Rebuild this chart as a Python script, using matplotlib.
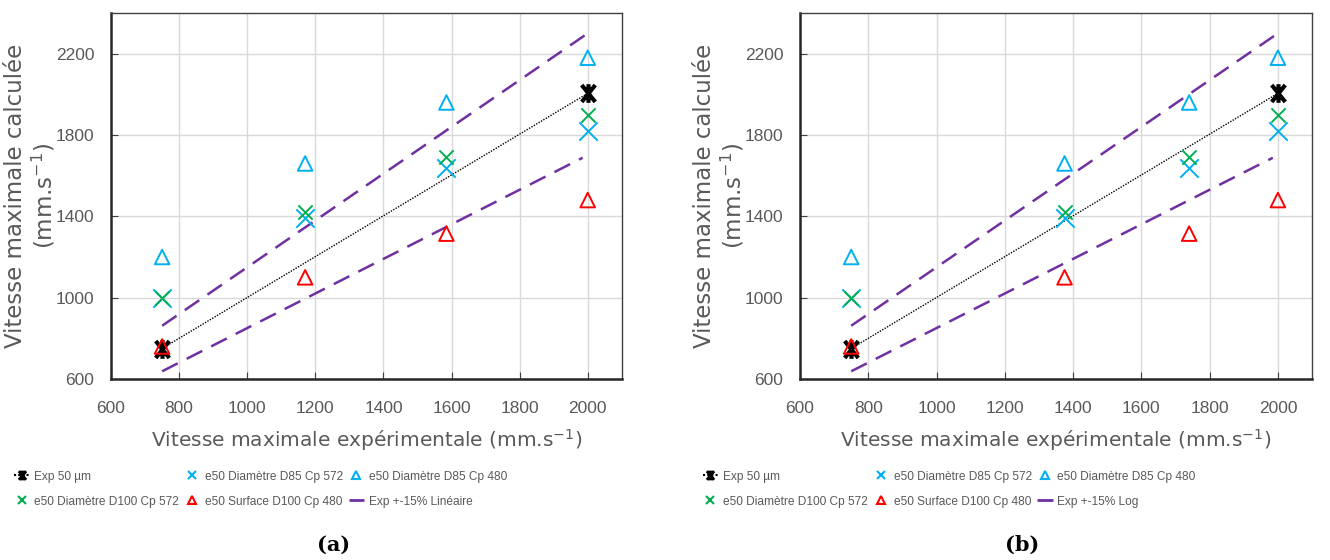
import matplotlib
matplotlib.use('Agg')
import matplotlib.pyplot as plt
from matplotlib.lines import Line2D
from matplotlib.path import Path

# values
x_a = [750, 1170, 1585, 2000]
x_b = [750, 1375, 1740, 2000]
exp_x = [750, 2000]
exp_y = [750, 2005]
d85_572 = [1000, 1390, 1640, 1820]
d85_480 = [1200, 1660, 1960, 2180]
d100_572 = [1000, 1420, 1690, 1900]
surf_480 = [760, 1100, 1315, 1480]
upper_x = [750, 2000]
upper_y = [862, 2300]
lower_x = [750, 1985]
lower_y = [638, 1688]

xticks = [600, 800, 1000, 1200, 1400, 1600, 1800, 2000]
yticks = [600, 1000, 1400, 1800, 2200]
band_labels = ['Exp +-15% Linéaire', 'Exp +-15% Log']
captions = ['(a)', '(b)']

GRAY = '#595959'
CYAN = '#00B0F0'
GREEN = '#00B050'
RED = '#FF0000'
PURPLE = '#7030A0'
TICKFONT = 'Liberation Sans'

# X with a vertical bar, like the Excel marker
star = Path([(-0.8, -1), (0.8, 1), (-0.8, 1), (0.8, -1), (0, -1.1), (0, 1.1)],
            [Path.MOVETO, Path.LINETO, Path.MOVETO, Path.LINETO, Path.MOVETO, Path.LINETO])

fig = plt.figure(figsize=(13.3, 5.6), dpi=100)
ax_a = fig.add_axes([0.0835, 0.3232, 0.384, 0.6536])
ax_b = fig.add_axes([0.6015, 0.3232, 0.385, 0.6536])

panels = [(ax_a, x_a, band_labels[0], 334),
          (ax_b, x_b, band_labels[1], 1022)]
for i, (ax, xs, band, cap_x) in enumerate(panels):
    ax.plot(upper_x, upper_y, color=PURPLE, lw=1.8, dashes=(7, 4), zorder=2)
    ax.plot(lower_x, lower_y, color=PURPLE, lw=1.8, dashes=(7, 4), zorder=2)
    ax.plot(exp_x, exp_y, color='black', lw=1.0, ls=(0, (1, 1)), zorder=3)
    ax.scatter(exp_x, exp_y, marker=star, s=180, color='black', lw=3.0, zorder=4)
    ax.scatter(xs, d85_480, marker='^', s=110, facecolors='none', edgecolors=CYAN, lw=1.4, zorder=5)
    ax.scatter(xs, surf_480, marker='^', s=110, facecolors='none', edgecolors=RED, lw=1.4, zorder=6)
    ax.scatter(xs, d85_572, marker='x', s=175, color=CYAN, lw=1.4, zorder=5)
    ax.scatter(xs, d100_572, marker='x', s=105, color=GREEN, lw=1.4, zorder=5)

    ax.set_xlim(600, 2100)
    ax.set_ylim(600, 2400)
    ax.set_xticks(xticks)
    ax.set_yticks(yticks)
    ax.grid(True, color='#D9D9D9', lw=1.0)
    ax.set_axisbelow(True)
    for sp in ax.spines.values():
        sp.set_color('#404040')
        sp.set_linewidth(1.0)
    for side in ['left', 'bottom']:
        ax.spines[side].set_linewidth(1.8)
        ax.spines[side].set_color('#262626')
    ax.tick_params(direction='in', length=5, color='#404040', labelsize=12.5,
                   labelcolor=GRAY)
    ax.tick_params(axis='x', pad=16)
    ax.tick_params(axis='y', pad=12)
    for lab in ax.get_xticklabels() + ax.get_yticklabels():
        lab.set_family(TICKFONT)

    ax.set_xlabel('Vitesse maximale expérimentale (mm.s$^{-1}$)', fontsize=14.5,
                  color=GRAY, labelpad=8)
    ax.set_ylabel('Vitesse maximale calculée\n(mm.s$^{-1}$)', fontsize=16.5,
                  color=GRAY, linespacing=1.15)
    ax.yaxis.set_label_coords(-0.105, 0.5)

    handles = [
        Line2D([], [], color='black', ls=(0, (1, 1)), marker=star, ms=7, mew=2.2),
        Line2D([], [], ls='none', marker='x', color=GREEN, ms=6, mew=1.5),
        Line2D([], [], ls='none', marker='x', color=CYAN, ms=6, mew=1.5),
        Line2D([], [], ls='none', marker='^', mfc='none', mec=RED, ms=6, mew=1.5),
        Line2D([], [], ls='none', marker='^', mfc='none', mec=CYAN, ms=6, mew=1.5),
        Line2D([], [], color=PURPLE, lw=2, dashes=(6, 3)),
    ]
    labels = ['Exp 50 µm', 'e50 Diamètre D100 Cp 572', 'e50 Diamètre D85 Cp 572',
              'e50 Surface D100 Cp 480', 'e50 Diamètre D85 Cp 480', band]
    leg = ax.legend(handles, labels, ncol=3, loc='upper left',
                    bbox_to_anchor=(-0.19, -0.25), frameon=False, borderpad=0,
                    borderaxespad=0, prop={'family': TICKFONT, 'size': 8.6},
                    handlelength=1.3, handletextpad=0.4, columnspacing=0.45,
                    labelspacing=1.1)
    for t in leg.get_texts():
        t.set_color(GRAY)

    fig.text(cap_x / 1330, 1 - 545 / 560, captions[i], ha='center', va='center',
             fontsize=15, fontweight='bold', family='DejaVu Serif')

fig.savefig('out.png', dpi=100)
